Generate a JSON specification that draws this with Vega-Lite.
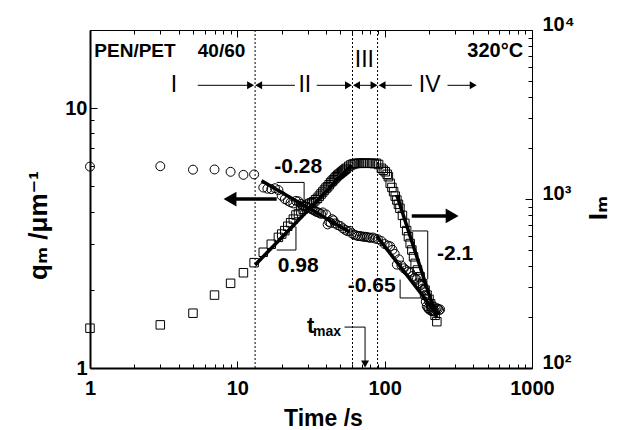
{
  "$schema": "https://vega.github.io/schema/vega-lite/v6.json",
  "width": 442,
  "height": 338,
  "autosize": {"type": "none"},
  "padding": {"left": 90, "top": 30, "right": 89, "bottom": 62},
  "config": {
    "view": {"stroke": null},
    "font": "Liberation Sans",
    "axis": {
      "grid": false,
      "domainColor": "black",
      "tickColor": "black",
      "labelColor": "black",
      "titleColor": "black",
      "labelFont": "Liberation Sans, DejaVu Sans",
      "titleFont": "Liberation Sans, DejaVu Sans",
      "labelFontWeight": "bold",
      "titleFontWeight": "bold",
      "labelFontSize": 20,
      "titleFontSize": 23,
      "labelFlush": false,
      "labelOverlap": false,
      "tickWidth": 1
    }
  },
  "datasets": {
    "circles": [
      {"t":1,"q":5.96},{"t":3,"q":5.98},{"t":5,"q":5.80},{"t":7,"q":5.81},{"t":9,"q":5.69},{"t":11,"q":5.54},{"t":13,"q":5.56},
      {"t":15,"q":4.95},{"t":16,"q":4.90},{"t":17,"q":4.88},{"t":18,"q":4.92},{"t":19,"q":4.84},{"t":20,"q":4.60},{"t":21,"q":4.47},
      {"t":22,"q":4.40},{"t":23,"q":4.34},{"t":24,"q":4.30},{"t":25,"q":4.40},{"t":26,"q":4.38},{"t":27,"q":4.28},{"t":28,"q":4.22},
      {"t":29,"q":4.18},{"t":30,"q":4.15},{"t":31,"q":4.12},{"t":32,"q":4.08},{"t":33,"q":4.05},{"t":34,"q":4.00},{"t":35,"q":3.98},
      {"t":36,"q":3.95},{"t":37,"q":3.92},{"t":38,"q":3.97},{"t":40,"q":3.90},{"t":41,"q":3.57},{"t":42,"q":3.65},{"t":43,"q":3.62},
      {"t":44,"q":3.74},{"t":45,"q":3.70},{"t":46,"q":3.60},{"t":48,"q":3.55},{"t":50,"q":3.52},{"t":52,"q":3.45},{"t":54,"q":3.40},
      {"t":56,"q":3.36},{"t":58,"q":3.37},{"t":60,"q":3.30},{"t":62,"q":3.26},{"t":64,"q":3.24},{"t":66,"q":3.22},{"t":68,"q":3.22},
      {"t":70,"q":3.21},{"t":72,"q":3.20},{"t":74,"q":3.20},{"t":76,"q":3.19},{"t":78,"q":3.18},{"t":80,"q":3.17},{"t":83,"q":3.18},
      {"t":86,"q":3.15},{"t":90,"q":3.13},{"t":95,"q":3.08},{"t":100,"q":3.00},{"t":105,"q":2.96},{"t":109,"q":2.94},{"t":113,"q":2.85},
      {"t":117,"q":2.75},{"t":121,"q":2.50},{"t":125,"q":2.62},{"t":130,"q":2.48},{"t":135,"q":2.42},{"t":140,"q":2.38},{"t":145,"q":2.35},
      {"t":149,"q":2.33},{"t":155,"q":2.26},{"t":160,"q":2.22},{"t":165,"q":2.19},{"t":170,"q":2.12},{"t":175,"q":2.08},{"t":180,"q":2.02},
      {"t":183,"q":2.00},{"t":187,"q":1.90},{"t":190,"q":1.80},{"t":193,"q":1.73},{"t":197,"q":1.70},{"t":200,"q":1.68},{"t":205,"q":1.67},
      {"t":210,"q":1.66},{"t":214,"q":1.65},{"t":218,"q":1.66},{"t":222,"q":1.68},{"t":226,"q":1.70},{"t":230,"q":1.69},{"t":234,"q":1.67},
      {"t":238,"q":1.68}
    ],
    "squares": [
      {"t":1,"I":172},{"t":3,"I":180},{"t":5,"I":211},{"t":7,"I":270},{"t":9,"I":317},{"t":11,"I":366},{"t":13,"I":420},{"t":15,"I":484},
      {"t":17,"I":540},{"t":19,"I":593},{"t":20,"I":620},{"t":21,"I":650},{"t":22,"I":690},{"t":23,"I":724},{"t":24,"I":760},{"t":25,"I":804},
      {"t":26,"I":820},{"t":27,"I":850},{"t":28,"I":870},{"t":29,"I":900},{"t":30,"I":920},{"t":31,"I":940},{"t":32,"I":950},{"t":33,"I":964},
      {"t":34,"I":990},{"t":35,"I":1010},{"t":36,"I":1040},{"t":37,"I":1070},{"t":38,"I":1100},{"t":39,"I":1130},{"t":40,"I":1160},
      {"t":41,"I":1182},{"t":42,"I":1215},{"t":43,"I":1250},{"t":44,"I":1275},{"t":45,"I":1300},{"t":46,"I":1330},{"t":47,"I":1355},
      {"t":48,"I":1380},{"t":49,"I":1400},{"t":50,"I":1420},{"t":51,"I":1440},{"t":52,"I":1460},{"t":53,"I":1480},{"t":54,"I":1500},
      {"t":55,"I":1520},{"t":57,"I":1560},{"t":59,"I":1590},{"t":61,"I":1610},{"t":63,"I":1620},{"t":65,"I":1626},{"t":67,"I":1630},
      {"t":69,"I":1626},{"t":71,"I":1626},{"t":73,"I":1630},{"t":76,"I":1630},{"t":79,"I":1626},{"t":82,"I":1626},{"t":85,"I":1620},
      {"t":88,"I":1626},{"t":91,"I":1600},{"t":95,"I":1520},{"t":98,"I":1480},{"t":101,"I":1450},{"t":104,"I":1400},{"t":106,"I":1355},
      {"t":109,"I":1238},{"t":112,"I":1170},{"t":115,"I":1105},{"t":118,"I":1040},{"t":121,"I":986},{"t":124,"I":930},{"t":127,"I":881},
      {"t":132,"I":800},{"t":137,"I":718},{"t":141,"I":650},{"t":145,"I":598},{"t":149,"I":545},{"t":153,"I":499},{"t":157,"I":455},
      {"t":161,"I":416},{"t":167,"I":380},{"t":174,"I":347},{"t":181,"I":315},{"t":188,"I":289},{"t":194,"I":270},{"t":200,"I":255},
      {"t":205,"I":240},{"t":209,"I":231},{"t":214,"I":218},{"t":220,"I":205},{"t":226,"I":188}
    ],
    "qThick": [
      {"t":14.6,"q":5.26,"t2":58.2,"q2":3.33},
      {"t":88.4,"q":3.22,"t2":214,"q2":1.68},
      {"t":18.5,"q":4.47,"t2":9.6,"q2":4.47},
      {"t":152.7,"q":3.85,"t2":280,"q2":3.85}
    ],
    "qThin": [
      {"t":18.5,"q":5.18,"t2":28.4,"q2":5.18},
      {"t":28.4,"q":5.18,"t2":28.4,"q2":4.40},
      {"t":127.3,"q":2.19,"t2":127.3,"q2":1.86},
      {"t":127.3,"q":1.86,"t2":188,"q2":1.86},
      {"t":5.39,"q":12.25,"t2":12.3,"q2":12.25},
      {"t":13.96,"q":12.25,"t2":24.6,"q2":12.25},
      {"t":34.6,"q":12.25,"t2":56.8,"q2":12.25},
      {"t":64.4,"q":12.25,"t2":84.7,"q2":12.25},
      {"t":96,"q":12.25,"t2":153,"q2":12.25},
      {"t":267,"q":12.25,"t2":399,"q2":12.25},
      {"t":53.4,"q":1.437,"t2":73.6,"q2":1.437},
      {"t":73.6,"q":1.437,"t2":73.6,"q2":1.04}
    ],
    "bigHeads": [
      {"t":8.92,"q":4.47,"dir":"left"},
      {"t":287,"q":3.85,"dir":"right"}
    ],
    "smallHeads": [
      {"t":12.3,"q":12.25,"dir":"right"},
      {"t":13.96,"q":12.25,"dir":"left"},
      {"t":56.8,"q":12.25,"dir":"right"},
      {"t":64.4,"q":12.25,"dir":"left"},
      {"t":84.7,"q":12.25,"dir":"right"},
      {"t":96,"q":12.25,"dir":"left"},
      {"t":399,"q":12.25,"dir":"right"},
      {"t":73.6,"q":1.036,"dir":"down"}
    ],
    "vlines": [{"t":13.2},{"t":60.5},{"t":89.5}],
    "slopeLabels": [
      {"t":25.9,"q":5.92,"label":"-0.28"},
      {"t":25.9,"q":2.47,"label":"0.98"},
      {"t":81.7,"q":2.06,"label":"-0.65"},
      {"t":300.6,"q":2.74,"label":"-2.1"}
    ],
    "regionLabels": [
      {"t":3.72,"q":12.25,"label":"I"},
      {"t":28.7,"q":12.25,"label":"II"},
      {"t":72.8,"q":15.3,"label":"III"},
      {"t":202,"q":12.25,"label":"IV"}
    ],
    "headerLeft": [
      {"t":1.07,"q":16.6,"label":"PEN/PET"},
      {"t":5.39,"q":16.6,"label":"40/60"}
    ],
    "headerRight": [{"t":871,"q":16.6,"label":"320°C"}],
    "tLabel": [{"t":31.5,"q":1.454,"label":"t"}],
    "maxLabel": [{"t":40.6,"q":1.37,"label":"max"}],
    "rightTitle": [{"t":3236,"I":884,"label":"Iₘ"}],
    "IThick": [
      {"t":13.2,"I":407,"t2":59.8,"I2":1589},
      {"t":120.8,"I":1056,"t2":226,"I2":197}
    ],
    "IThin": [
      {"t":25.0,"I":686,"t2":25.0,"I2":499},
      {"t":18.5,"I":499,"t2":25.0,"I2":499},
      {"t":152.7,"I":647,"t2":196,"I2":647},
      {"t":196,"I":647,"t2":196,"I2":335}
    ]
  },
  "layer": [
    {
      "data": {"name": "vlines"},
      "mark": {"type": "rule", "color": "black", "strokeWidth": 1, "strokeDash": [2, 2]},
      "encoding": {
        "x": {"field": "t", "type": "quantitative", "scale": {"type": "log", "domain": [1, 1000], "nice": false},
          "axis": {
            "orient": "bottom",
            "values": [1, 10, 100, 1000],
            "format": "d",
            "ticks": false,
            "domainWidth": 2,
            "labelPadding": 10,
            "title": "Time /s",
            "titleX": 233,
            "titleY": 50,
            "titleBaseline": "middle"
          }
        }
      }
    },
    {
      "data": {"name": "circles"},
      "mark": {"type": "point", "shape": "circle", "size": 80, "filled": false, "stroke": "black", "strokeWidth": 1, "opacity": 1},
      "encoding": {
        "x": {"field": "t", "type": "quantitative", "scale": {"type": "log", "domain": [1, 1000], "nice": false},
          "axis": {"orient": "top", "values": [1, 1000], "ticks": false, "labels": false, "domainWidth": 1, "title": null}
        },
        "y": {"field": "q", "type": "quantitative", "scale": {"type": "log", "domain": [1, 20], "nice": false},
          "axis": {
            "orient": "left",
            "values": [1, 10],
            "format": "d",
            "ticks": false,
            "domainWidth": 2,
            "labelPadding": 3,
            "title": "qₘ /μm⁻¹",
            "titleFontSize": 26,
            "titleAngle": 270,
            "titleX": -44,
            "titleY": 195,
            "titleAlign": "center",
            "titleBaseline": "alphabetic"
          }
        }
      }
    },
    {
      "data": {"name": "qThick"},
      "mark": {"type": "rule", "color": "black", "strokeWidth": 3.5},
      "encoding": {
        "x": {"field": "t", "type": "quantitative", "scale": {"type": "log", "domain": [1, 1000], "nice": false},
          "axis": {"orient": "top", "offset": -338, "values": [1, 10, 100, 1000], "tickSize": 7, "domain": false, "labels": false, "title": null}
        },
        "x2": {"field": "t2"},
        "y": {"field": "q", "type": "quantitative", "scale": {"type": "log", "domain": [1, 20], "nice": false},
          "axis": {"orient": "right", "offset": -442, "values": [1, 10], "tickSize": 7, "domain": false, "labels": false, "title": null}
        },
        "y2": {"field": "q2"}
      }
    },
    {
      "data": {"name": "qThin"},
      "mark": {"type": "rule", "color": "black", "strokeWidth": 1},
      "encoding": {
        "x": {"field": "t", "type": "quantitative", "scale": {"type": "log", "domain": [1, 1000], "nice": false},
          "axis": {"orient": "top", "offset": -338, "values": [2,3,4,5,6,7,8,9,20,30,40,50,60,70,80,90,200,300,400,500,600,700,800,900], "tickSize": 4, "domain": false, "labels": false, "title": null}
        },
        "x2": {"field": "t2"},
        "y": {"field": "q", "type": "quantitative", "scale": {"type": "log", "domain": [1, 20], "nice": false},
          "axis": {"orient": "right", "offset": -442, "values": [2,3,4,5,6,7,8,9,20], "tickSize": 4, "domain": false, "labels": false, "title": null}
        },
        "y2": {"field": "q2"}
      }
    },
    {
      "data": {"name": "bigHeads"},
      "mark": {"type": "point", "filled": true, "color": "black", "size": 220, "opacity": 1},
      "encoding": {
        "x": {"field": "t", "type": "quantitative", "scale": {"type": "log", "domain": [1, 1000], "nice": false},
          "axis": {"orient": "bottom", "offset": -338, "values": [1, 10, 100, 1000], "tickSize": 7, "domain": false, "labels": false, "title": null}
        },
        "y": {"field": "q", "type": "quantitative", "scale": {"type": "log", "domain": [1, 20], "nice": false}, "axis": null},
        "shape": {"field": "dir", "type": "nominal", "scale": {"domain": ["left", "right", "down"], "range": ["triangle-left", "triangle-right", "triangle-down"]}, "legend": null}
      }
    },
    {
      "data": {"name": "smallHeads"},
      "mark": {"type": "point", "filled": true, "color": "black", "size": 64, "opacity": 1},
      "encoding": {
        "x": {"field": "t", "type": "quantitative", "scale": {"type": "log", "domain": [1, 1000], "nice": false},
          "axis": {"orient": "bottom", "offset": -338, "values": [2,3,4,5,6,7,8,9,20,30,40,50,60,70,80,90,200,300,400,500,600,700,800,900], "tickSize": 4, "domain": false, "labels": false, "title": null}
        },
        "y": {"field": "q", "type": "quantitative", "scale": {"type": "log", "domain": [1, 20], "nice": false}, "axis": null},
        "shape": {"field": "dir", "type": "nominal", "scale": {"domain": ["left", "right", "down"], "range": ["triangle-left", "triangle-right", "triangle-down"]}, "legend": null}
      }
    },
    {
      "data": {"name": "slopeLabels"},
      "mark": {"type": "text", "font": "Liberation Sans", "fontWeight": "bold", "fontSize": 21, "color": "black", "align": "center", "baseline": "middle"},
      "encoding": {
        "x": {"field": "t", "type": "quantitative", "scale": {"type": "log", "domain": [1, 1000], "nice": false}, "axis": null},
        "y": {"field": "q", "type": "quantitative", "scale": {"type": "log", "domain": [1, 20], "nice": false}, "axis": null},
        "text": {"field": "label"}
      }
    },
    {
      "data": {"name": "regionLabels"},
      "mark": {"type": "text", "font": "Liberation Sans", "fontWeight": "normal", "fontSize": 23, "color": "black", "align": "center", "baseline": "middle"},
      "encoding": {
        "x": {"field": "t", "type": "quantitative", "scale": {"type": "log", "domain": [1, 1000], "nice": false}, "axis": null},
        "y": {"field": "q", "type": "quantitative", "scale": {"type": "log", "domain": [1, 20], "nice": false}, "axis": null},
        "text": {"field": "label"}
      }
    },
    {
      "data": {"name": "headerLeft"},
      "mark": {"type": "text", "font": "Liberation Sans", "fontWeight": "bold", "fontSize": 19, "color": "black", "align": "left", "baseline": "middle"},
      "encoding": {
        "x": {"field": "t", "type": "quantitative", "scale": {"type": "log", "domain": [1, 1000], "nice": false}, "axis": null},
        "y": {"field": "q", "type": "quantitative", "scale": {"type": "log", "domain": [1, 20], "nice": false}, "axis": null},
        "text": {"field": "label"}
      }
    },
    {
      "data": {"name": "headerRight"},
      "mark": {"type": "text", "font": "Liberation Sans", "fontWeight": "bold", "fontSize": 20, "color": "black", "align": "right", "baseline": "middle"},
      "encoding": {
        "x": {"field": "t", "type": "quantitative", "scale": {"type": "log", "domain": [1, 1000], "nice": false}, "axis": null},
        "y": {"field": "q", "type": "quantitative", "scale": {"type": "log", "domain": [1, 20], "nice": false}, "axis": null},
        "text": {"field": "label"}
      }
    },
    {
      "data": {"name": "tLabel"},
      "mark": {"type": "text", "font": "Liberation Sans", "fontWeight": "bold", "fontSize": 22, "color": "black", "align": "center", "baseline": "middle"},
      "encoding": {
        "x": {"field": "t", "type": "quantitative", "scale": {"type": "log", "domain": [1, 1000], "nice": false}, "axis": null},
        "y": {"field": "q", "type": "quantitative", "scale": {"type": "log", "domain": [1, 20], "nice": false}, "axis": null},
        "text": {"field": "label"}
      }
    },
    {
      "data": {"name": "maxLabel"},
      "mark": {"type": "text", "font": "Liberation Sans", "fontWeight": "bold", "fontSize": 14, "color": "black", "align": "center", "baseline": "middle"},
      "encoding": {
        "x": {"field": "t", "type": "quantitative", "scale": {"type": "log", "domain": [1, 1000], "nice": false}, "axis": null},
        "y": {"field": "q", "type": "quantitative", "scale": {"type": "log", "domain": [1, 20], "nice": false}, "axis": null},
        "text": {"field": "label"}
      }
    },
    {
      "data": {"name": "squares"},
      "mark": {"type": "point", "shape": "square", "size": 72, "filled": false, "stroke": "black", "strokeWidth": 1, "opacity": 1},
      "encoding": {
        "x": {"field": "t", "type": "quantitative", "scale": {"type": "log", "domain": [1, 1000], "nice": false}, "axis": null},
        "y": {"field": "I", "type": "quantitative", "scale": {"type": "log", "domain": [100, 10000], "nice": false},
          "axis": {
            "orient": "right",
            "values": [100, 1000, 10000],
            "labelExpr": "datum.value==100 ? '10²' : datum.value==1000 ? '10³' : '10⁴'",
            "ticks": false,
            "domainWidth": 1,
            "labelAlign": "left",
            "labelBaseline": "alphabetic",
            "labelPadding": 10,
            "title": null
          }
        }
      }
    },
    {
      "data": {"name": "rightTitle"},
      "mark": {"type": "text", "font": "Liberation Sans, DejaVu Sans", "fontWeight": "bold", "fontSize": 26, "color": "black", "angle": 270, "align": "center", "baseline": "alphabetic"},
      "encoding": {
        "x": {"field": "t", "type": "quantitative", "scale": {"type": "log", "domain": [1, 1000], "nice": false}, "axis": null},
        "y": {"field": "I", "type": "quantitative", "scale": {"type": "log", "domain": [100, 10000], "nice": false}, "axis": null},
        "text": {"field": "label"}
      }
    },
    {
      "data": {"name": "IThick"},
      "mark": {"type": "rule", "color": "black", "strokeWidth": 3.5},
      "encoding": {
        "x": {"field": "t", "type": "quantitative", "scale": {"type": "log", "domain": [1, 1000], "nice": false}, "axis": null},
        "x2": {"field": "t2"},
        "y": {"field": "I", "type": "quantitative", "scale": {"type": "log", "domain": [100, 10000], "nice": false},
          "axis": {"orient": "left", "offset": -442, "values": [100, 1000, 10000], "tickSize": 7, "domain": false, "labels": false, "title": null}
        },
        "y2": {"field": "I2"}
      }
    },
    {
      "data": {"name": "IThin"},
      "mark": {"type": "rule", "color": "black", "strokeWidth": 1},
      "encoding": {
        "x": {"field": "t", "type": "quantitative", "scale": {"type": "log", "domain": [1, 1000], "nice": false}, "axis": null},
        "x2": {"field": "t2"},
        "y": {"field": "I", "type": "quantitative", "scale": {"type": "log", "domain": [100, 10000], "nice": false},
          "axis": {"orient": "left", "offset": -442, "values": [200,300,400,500,600,700,800,900,2000,3000,4000,5000,6000,7000,8000,9000], "tickSize": 4, "domain": false, "labels": false, "title": null}
        },
        "y2": {"field": "I2"}
      }
    }
  ],
  "resolve": {"scale": {"y": "independent"}, "axis": {"x": "independent", "y": "independent"}}
}
